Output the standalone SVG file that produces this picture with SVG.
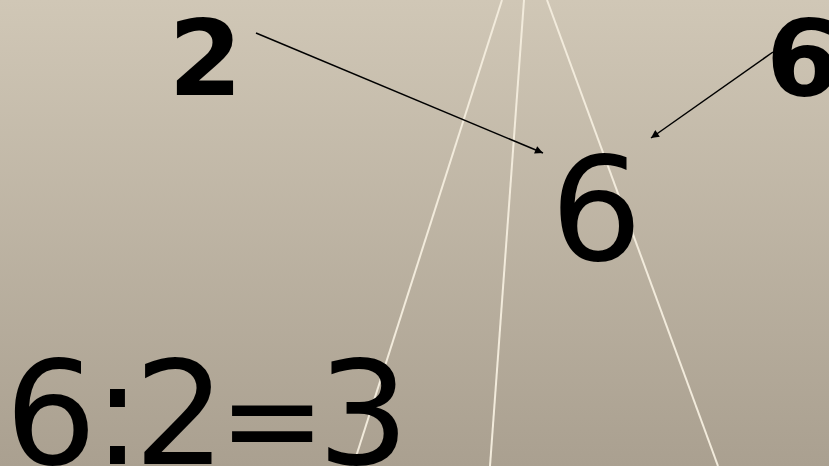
<svg xmlns="http://www.w3.org/2000/svg" width="829" height="466" viewBox="0 0 829 466">
<defs>
<linearGradient id="bg" x1="0" y1="0" x2="0" y2="1">
<stop offset="0" stop-color="#d0c7b6"/>
<stop offset="1" stop-color="#aaa090"/>
</linearGradient>
<marker id="ah" viewBox="0 0 10 10" refX="10" refY="5" markerWidth="10" markerHeight="8" markerUnits="userSpaceOnUse" orient="auto">
<path d="M0,0 L10,5 L0,10 z" fill="#000"/>
</marker>
<style>
.ray{stroke:#f2ebdc;stroke-width:2;fill:none}
.arr{stroke:#000;stroke-width:1.5;fill:none;marker-end:url(#ah)}
.b{font-family:"DejaVu Sans",sans-serif;font-weight:bold;font-size:106px;fill:#000}
.n{font-family:"DejaVu Sans",sans-serif;font-size:145px;fill:#000}
</style>
</defs>
<rect width="829" height="466" fill="url(#bg)"/>
<g id="rays">
<line class="ray" x1="502" y1="0" x2="353" y2="466"/>
<line class="ray" x1="524" y1="0" x2="490" y2="466"/>
<line class="ray" x1="547" y1="0" x2="718" y2="466"/>
</g>
<g id="connectors">
<line class="arr" x1="256" y1="33" x2="543" y2="153"/>
<line class="arr" x1="773" y1="52" x2="651" y2="138"/>
</g>
<g id="n2"><text class="b" x="205.5" y="95" text-anchor="middle">2</text></g>
<g id="n6top"><text class="b" x="766" y="96">6</text></g>
<g id="n6mid"><text class="n" x="596.5" y="260" text-anchor="middle">6</text></g>
<g id="eq"><text class="n" y="464" text-anchor="middle"><tspan x="51">6</tspan><tspan x="117.5">:</tspan><tspan x="180">2</tspan><tspan x="272" font-size="128">=</tspan><tspan x="363.5">3</tspan></text></g>
</svg>
